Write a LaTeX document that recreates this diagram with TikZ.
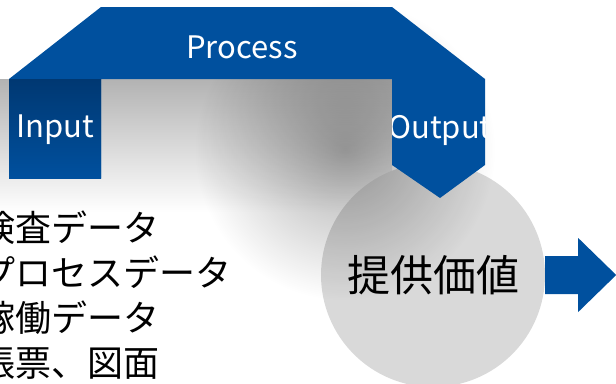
\documentclass[tikz,border=0pt]{standalone}
\usepackage{fontspec}
\newfontfamily\jpfont{Noto Sans CJK JP}
\usetikzlibrary{fadings}
\definecolor{bandblue}{RGB}{0,80,158}
\definecolor{darkblue}{RGB}{0,56,114}
\definecolor{disc}{RGB}{217,217,217}
\tikzfading[name=softblob,inner color=transparent!0,outer color=transparent!100]
\tikzset{
  bandtext/.style={text=white,inner sep=0pt,font=\jpfont\fontsize{31}{31}\selectfont}
}
\begin{document}
\begin{tikzpicture}[x=1pt,y=-1pt]
\useasboundingbox (0,0) rectangle (616,383);
% shadow under the band
\shade[top color=black!30,bottom color=white] (0,79) rectangle (392,212);
% value circle
\node[circle,fill=disc,minimum size=224pt,inner sep=0pt] (value) at (433,275) {};
\fill[black,opacity=0.32,path fading=softblob] (345,150) circle (150);
% process band
\fill[bandblue] (9,178) -- (9,79) -- (101,7) -- (392,7) -- (485,79) -- (485,165)
  -- (440,198) -- (392,165) -- (392,79) -- (101,79) -- (101,178) -- cycle;
\shade[top color=darkblue,bottom color=bandblue] (9,79) rectangle (101,178);
\node[bandtext] (process) at (242,47) {Process};
\node[bandtext] (input) at (55,130) {Input};
\begin{scope}
\clip (392,79) rectangle (485,165);
\node[bandtext] (output) at (440,130) {Output};
\end{scope}
% value text and arrow
\node[font=\jpfont\fontsize{43}{43}\selectfont] (valuetext) at (value.center) {提供価値};
\fill[bandblue] (value.east) ++(0,-19) -- ++(33,0) -- ++(0,-18) -- ++(38,37) -- ++(-38,37)
  -- ++(0,-18) -- ++(-33,0) -- cycle;
% data list
\node[anchor=north west,align=left,inner sep=0pt,font=\jpfont\fontsize{36}{45}\selectfont] (data) at (-21,211)
  {検査データ\\プロセスデータ\\稼働データ\\帳票、図面};
\end{tikzpicture}
\end{document}
